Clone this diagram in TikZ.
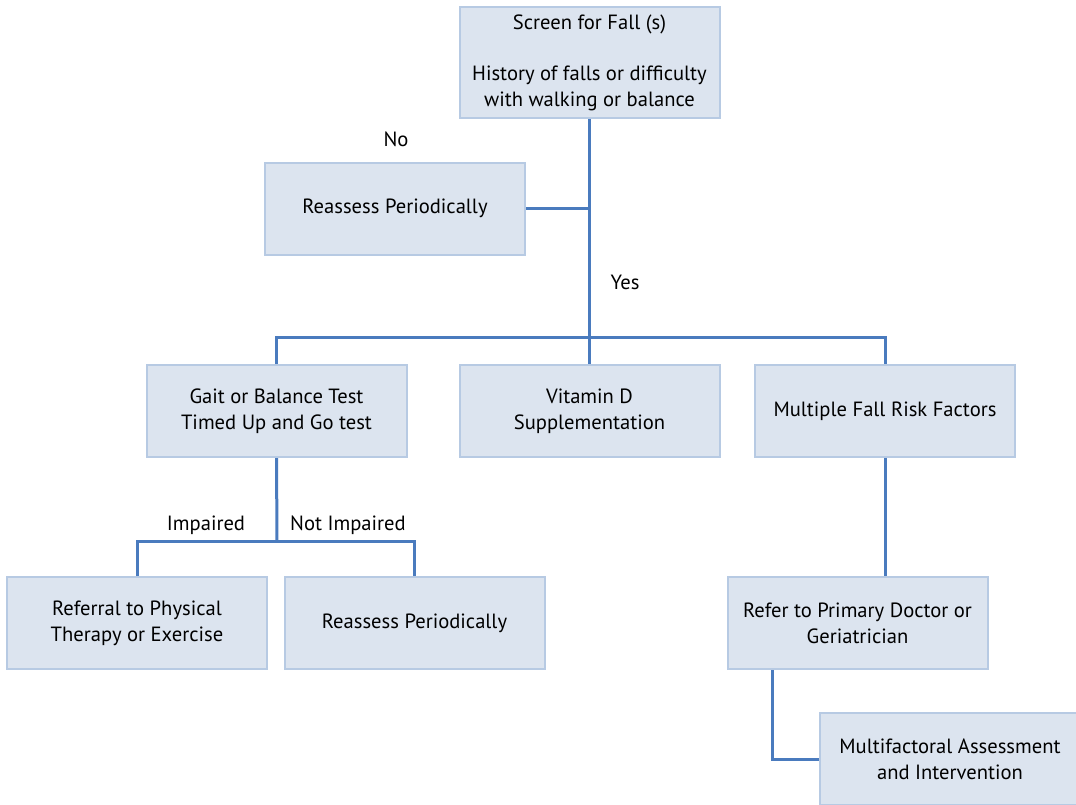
\documentclass[tikz,border=0pt]{standalone}
\usepackage{fontspec}
\setmainfont{PT Sans}
\usepackage{xcolor}
\definecolor{boxfill}{HTML}{DCE4EF}
\definecolor{boxline}{HTML}{B7CAE3}
\definecolor{linkblue}{HTML}{4A7BBE}

\begin{document}
\begin{tikzpicture}[x=0.5pt, y=-0.5pt,
    every node/.style={font=\fontsize{10.3}{13}\selectfont},
    box/.style={rectangle, draw=boxline, line width=1pt, fill=boxfill, align=center,
                minimum width=130pt, minimum height=46pt, inner sep=0pt},
    link/.style={draw=linkblue, line width=1.5pt}]
    \useasboundingbox (0,0) rectangle (1076,804);
    \clip (0,0) rectangle (1076,804);
    \node[box, minimum height=55.5pt] (screen) at (589.5,62.5) {Screen for Fall (s)\\[12.5pt]History of falls or difficulty\\with walking or balance};
    \node[box] (reassessa) at (395,208.5) {Reassess Periodically};
    \node[box] (gait) at (276.5,411) {Gait or Balance Test\\Timed Up and Go test};
    \node[box] (vitd) at (589.5,411) {Vitamin D\\Supplementation};
    \node[box] (multi) at (885,411) {Multiple Fall Risk Factors};
    \node[box] (referral) at (137,623) {Referral to Physical\\Therapy or Exercise};
    \node[box] (reassessb) at (414.5,623) {Reassess Periodically};
    \node[box] (refer) at (857.5,623) {Refer to Primary Doctor or\\Geriatrician};
    \node[box] (multifac) at (950,759) {Multifactoral Assessment\\and Intervention};
    \coordinate (branch) at (589,337);
    \coordinate (gaitsplit) at (277,541);
    \draw[link] (screen.south) -- (vitd.north);
    \draw[link] (reassessa.east) -- (reassessa.east -| screen.south);
    \draw[link] (gait.north) |- (branch) -| (multi.north);
    \draw[link] (gait.south) -- (gaitsplit);
    \draw[link] (referral.north) |- (gaitsplit) -| (reassessb.north);
    \draw[link] (multi.south) -- (multi.south |- refer.north);
    \draw[link] ([xshift=23pt]refer.south west) |- (multifac.west);
    \node (no) at (396,139) {No};
    \node (yes) at (625,282) {Yes};
    \node (impaired) at (206,525) {Impaired};
    \node (notimpaired) at (348,525) {Not Impaired};
\end{tikzpicture}
\end{document}
